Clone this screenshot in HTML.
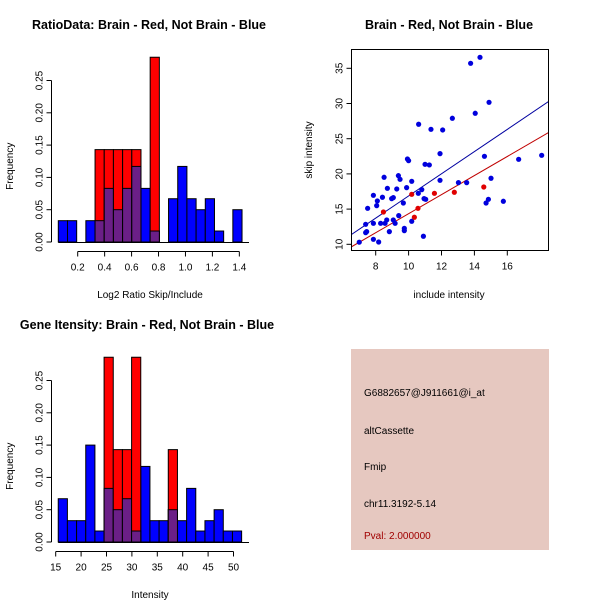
<!DOCTYPE html>
<html><head><meta charset="utf-8"><style>
body{margin:0;background:#fff}
svg{display:block;font-family:"Liberation Sans",sans-serif}
</style></head><body>
<svg id="c" width="600" height="600" xmlns="http://www.w3.org/2000/svg">
<rect width="600" height="600" fill="#fff"/>
<text x="149" y="29" font-size="12.5" font-weight="bold" text-anchor="middle">RatioData: Brain - Red, Not Brain - Blue</text>
<text x="449" y="29" font-size="12.5" font-weight="bold" text-anchor="middle">Brain - Red, Not Brain - Blue</text>
<text x="147" y="329" font-size="12.5" font-weight="bold" text-anchor="middle">Gene Itensity: Brain - Red, Not Brain - Blue</text>
<g id="h1"></g>
<g id="h2"></g>
<g id="sc"></g>
<g>
<rect x="351" y="349" width="198" height="201" fill="#e6c8c0"/>
<text x="364" y="396" font-size="10">G6882657@J911661@i_at</text>
<text x="364" y="434" font-size="10">altCassette</text>
<text x="364" y="470" font-size="10">Fmip</text>
<text x="364" y="507" font-size="10">chr11.3192-5.14</text>
<text x="364" y="539" font-size="10" fill="#a00000">Pval: 2.000000</text>
</g>
</svg>
<script>
// Ratio histogram data
const ratioBinStart = 0.056, ratioBinWidth = 0.0682;
const ratioBlue = [0.033,0.033,0,0.033,0.033,0.083,0.05,0.083,0.117,0.083,0.017,0,0.067,0.117,0.067,0.05,0.067,0.017,0,0.05];
const ratioRed  = [0,0,0,0,0.143,0.143,0.143,0.143,0.143,0,0.286,0,0,0,0,0,0,0,0,0];
const ratioXTicks = [0.2,0.4,0.6,0.8,1.0,1.2,1.4];
const ratioXLabels = ["0.2","0.4","0.6","0.8","1.0","1.2","1.4"];
// Intensity histogram data
const intBinStart = 15.5, intBinWidth = 1.805;
const intBlue = [0.067,0.033,0.033,0.15,0.017,0.083,0.05,0.067,0.017,0.117,0.033,0.033,0.05,0.033,0.083,0.017,0.033,0.05,0.017,0.017];
const intRed  = [0,0,0,0,0,0.286,0.143,0.143,0.286,0,0,0,0.143,0,0,0,0,0,0,0];
const intXTicks = [15,20,25,30,35,40,45,50];
const freqTicks = [0,0.05,0.10,0.15,0.20,0.25];
const freqLabels = ["0.00","0.05","0.10","0.15","0.20","0.25"];
// Scatter data
const blueX = [7.0,7.39,7.39,7.45,7.51,7.86,7.86,7.86,8.06,8.10,8.18,8.30,8.41,8.51,8.57,8.67,8.71,8.83,8.97,9.07,9.07,9.18,9.28,9.38,9.40,9.48,9.68,9.74,9.74,9.88,9.93,10.0,10.19,10.19,10.59,10.61,10.80,10.90,10.94,11.04,11.0,11.26,11.36,11.91,12.07,11.91,12.66,13.03,13.53,13.77,14.05,14.34,14.61,14.71,14.89,14.85,15.01,15.76,16.69,18.09];
const blueY = [10.3,11.66,12.84,11.8,15.11,10.71,12.98,16.96,15.49,16.16,10.33,12.98,16.68,19.52,12.98,13.46,17.95,11.8,16.49,16.63,13.46,12.98,17.86,19.75,14.07,19.23,15.87,12.27,11.94,18.05,22.12,21.88,13.27,18.95,17.24,27.05,17.77,11.14,16.49,16.39,21.36,21.27,26.33,22.88,26.24,19.09,27.9,18.76,18.76,35.71,28.61,36.56,22.5,15.87,30.17,16.39,19.38,16.11,22.07,22.64];
const redX = [8.47,10.19,10.35,10.57,11.57,12.78,14.57];
const redY = [14.59,17.1,13.84,15.11,17.24,17.39,18.14];
const blueFit = [1.11,1.576]; // intercept, slope
const redFit = [0.81,1.354];
const scXTicks = [8,10,12,14,16];
const scYTicks = [10,15,20,25,30,35];

const NS="http://www.w3.org/2000/svg";
function mk(p,tag,a){const e=document.createElementNS(NS,tag);for(const k in a)e.setAttribute(k,a[k]);p.appendChild(e);return e;}

function hist(g,y0,xs,bs,bw,blue,red,xt,xl,xlabel,xtickStart,xtickEnd){
  const y=v=>y0-v*646;
  for(let i=0;i<blue.length;i++){
    const xa=xs(bs+i*bw), xb=xs(bs+(i+1)*bw);
    if(blue[i]>0){const r=mk(g,'rect',{x:xa,y:y(blue[i]),width:xb-xa,height:y(0)-y(blue[i]),fill:'#0000ff',stroke:'#000','stroke-width':1});
      
      }
  }
  for(let i=0;i<red.length;i++){
    const xa=xs(bs+i*bw), xb=xs(bs+(i+1)*bw);
    if(red[i]>0){const r=mk(g,'rect',{x:xa,y:y(red[i]),width:xb-xa,height:y(0)-y(red[i]),fill:'#ff0000',stroke:'#000','stroke-width':1});
      
      
      const m=Math.min(red[i],blue[i]);
      if(m>0){const p=mk(g,'rect',{x:xa,y:y(m),width:xb-xa,height:y(0)-y(m),fill:'#6b1f87',stroke:'#000','stroke-width':1});
        
        }
    }
  }
  mk(g,'line',{x1:xs(bs),x2:249,y1:y(0)+0.5,y2:y(0)+0.5,stroke:'#000'});
  const ax=51.5;
  mk(g,'line',{x1:ax,x2:ax,y1:y(0),y2:y(0.25),stroke:'#000'});
  freqTicks.forEach((t,i)=>{mk(g,'line',{x1:ax-5,x2:ax,y1:y(t),y2:y(t),stroke:'#000'});
    const tx=mk(g,'text',{x:0,y:0,'font-size':10,'text-anchor':'middle',transform:`translate(${ax-9},${y(t)}) rotate(-90)`});tx.textContent=freqLabels[i];
    
    });
  const yl=mk(g,'text',{'font-size':10,'text-anchor':'middle',transform:`translate(13,${y(0.125)+5}) rotate(-90)`});yl.textContent='Frequency';
  
  
  const axY=y(0)+9.5;
  mk(g,'line',{x1:xs(xtickStart),x2:xs(xtickEnd),y1:axY,y2:axY,stroke:'#000'});
  xt.forEach((t,i)=>{mk(g,'line',{x1:xs(t),x2:xs(t),y1:axY,y2:axY+5,stroke:'#000'});
    const tx=mk(g,'text',{x:xs(t),y:axY+19,'font-size':10,'text-anchor':'middle'});tx.textContent=xl[i];
    
    });
  const xlb=mk(g,'text',{x:150,y:y(0)+56,'font-size':10,'text-anchor':'middle'});xlb.textContent=xlabel;
  
  
}
const xs1=v=>77.7+(v-0.2)*134.7;
hist(document.getElementById('h1'),242,xs1,ratioBinStart,ratioBinWidth,ratioBlue,ratioRed,ratioXTicks,ratioXLabels,'Log2 Ratio Skip/Include',0.2,1.4);
const xs2=v=>55.7+(v-15)*5.08;
hist(document.getElementById('h2'),542,xs2,intBinStart,intBinWidth,intBlue,intRed,intXTicks,intXTicks.map(String),'Intensity',15,50);

const g=document.getElementById('sc');
const sx=v=>375.7+(v-8)*16.45, sy=v=>244.3-(v-10)*7.04;
const L=351.5,R=548.5,T=49.5,B=250.5;
const cp=mk(g,'clipPath',{id:'clp'});mk(cp,'rect',{x:L,y:T,width:R-L,height:B-T});
[[blueFit,'#0000a0'],[redFit,'#c00000']].forEach(([f,c])=>{
  const x0=(L-375.7)/16.45+8, x1=(R-375.7)/16.45+8;
  const ln=mk(g,'line',{x1:sx(x0),y1:sy(f[0]+f[1]*x0),x2:sx(x1),y2:sy(f[0]+f[1]*x1),stroke:c,'stroke-width':1,'clip-path':'url(#clp)'});
  
  
});
blueX.forEach((x,i)=>{const c=mk(g,'circle',{cx:sx(x),cy:sy(blueY[i]),r:2.6,fill:'#0000dd'});
  
  });
redX.forEach((x,i)=>{const c=mk(g,'circle',{cx:sx(x),cy:sy(redY[i]),r:2.6,fill:'#e00000'});
  
  });
mk(g,'rect',{x:L,y:T,width:R-L,height:B-T,fill:'none',stroke:'#000'});
scXTicks.forEach(t=>{mk(g,'line',{x1:sx(t),x2:sx(t),y1:B,y2:B+5,stroke:'#000'});
  const tx=mk(g,'text',{x:sx(t),y:B+19,'font-size':10,'text-anchor':'middle'});tx.textContent=t;
  
  });
scYTicks.forEach(t=>{mk(g,'line',{x1:L-5,x2:L,y1:sy(t),y2:sy(t),stroke:'#000'});
  const tx=mk(g,'text',{'font-size':10,'text-anchor':'middle',transform:`translate(${L-9},${sy(t)}) rotate(-90)`});tx.textContent=t;
  
  });
const xl=mk(g,'text',{x:449,y:298,'font-size':10,'text-anchor':'middle'});xl.textContent='include intensity';


const yl=mk(g,'text',{'font-size':10,'text-anchor':'middle',transform:'translate(312,150) rotate(-90)'});yl.textContent='skip intensity';


</script>
</body></html>
